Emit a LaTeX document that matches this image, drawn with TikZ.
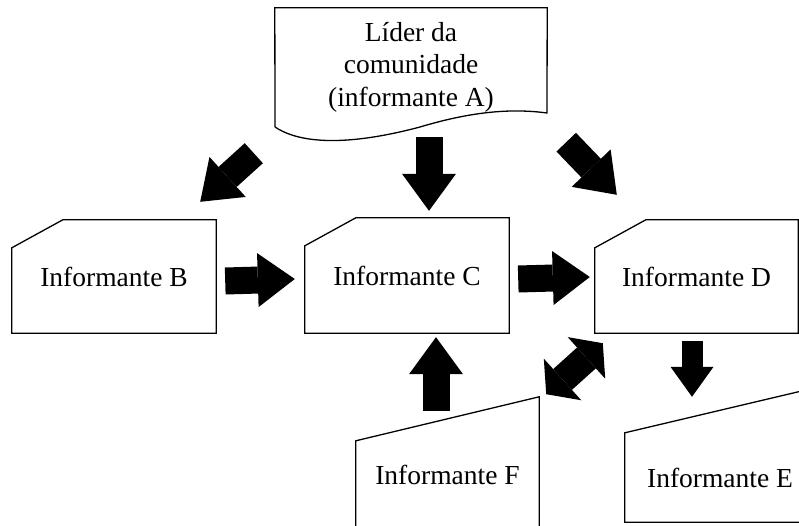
\documentclass[tikz,border=0pt]{standalone}
\usepackage{fontspec}
\setmainfont{Liberation Serif}
\usetikzlibrary{arrows.meta}

\tikzset{
  ficha/.style={minimum width=204pt,minimum height=113pt,inner sep=0pt,
    font=\fontsize{27.5}{32.5}\selectfont},
  contorno/.style={line width=1.3pt,line join=miter},
  flecha/.style={line width=27pt,-{Triangle[length=37pt,width=54pt,line width=0pt]}},
  flechita/.style={line width=21pt,-{Triangle[length=30pt,width=43pt,line width=0pt]}},
  dobleflecha/.style={line width=28pt,
    {Triangle[length=22pt,width=56pt,line width=0pt]}-{Triangle[length=22pt,width=56pt,line width=0pt]}}
}

\begin{document}
\begin{tikzpicture}[x=1pt,y=-1pt]
  \useasboundingbox (0,0) rectangle (799,526);
  % lider (documento)
  \node[ficha,minimum width=272pt,minimum height=118pt,align=center] (A) at (411,67)
    {Líder da\\comunidade\\(informante A)};
  \draw[contorno] (275,127) -- (A.north west) -- (A.north east) -- (547,113)
    .. controls (510,108) and (470,112) .. (420,127)
    .. controls (360,143) and (305,147) .. (275,127);
  % informantes B, C, D
  \node[ficha] (B) at (114,276.5) {Informante B};
  \node[ficha,minimum height=115pt] (C) at (407,275.5) {Informante C};
  \node[ficha,minimum width=203pt] (D) at (696.5,276.5) {Informante D};
  \foreach \n in {B,C,D}
    \draw[contorno] ([yshift=-28pt]\n.north west) -- ([xshift=51pt]\n.north west)
      -- (\n.north east) -- (\n.south east) -- (\n.south west) -- cycle;
  % informantes E, F (entrada manual)
  \node[ficha,minimum width=190pt,minimum height=89pt] (E) at (720,477.5) {Informante E};
  \draw[contorno] (E.north west) -- ([yshift=45pt]E.north east) -- (E.south east)
    -- (E.south west) -- cycle;
  \node[ficha,minimum width=183pt,minimum height=68pt] (F) at (447.5,475) {Informante F};
  \draw[contorno] (F.north west) -- ([yshift=44pt]F.north east)
    -- ([yshift=-40pt]F.south east) -- ([yshift=-40pt]F.south west) -- cycle;
  % setas
  \draw[flecha] ([shift={(-21,27)}]A.south west) -- ([shift={(-16,-18)}]B.north east);
  \draw[flecha] ([shift={(18,11)}]A.south) -- ([shift={(22,-7)}]C.north);
  \draw[flecha] ([shift={(19,16)}]A.south east) -- ([shift={(22,-25)}]D.north west);
  \draw[flecha] ([shift={(9,4.5)}]B.east) -- ([shift={(-10,3.5)}]C.west);
  \draw[flecha] ([shift={(9,3.5)}]C.east) -- ([shift={(-5,0.5)}]D.west);
  \draw[flechita] ([shift={(-4.5,8)}]D.south) -- ([shift={(-28,-36)}]E.north);
  \draw[flecha] ([shift={(-11.5,-30)}]F.north) -- ([shift={(29,4)}]C.south);
  \draw[dobleflecha] ([shift={(37,61)}]C.south east) -- ([shift={(8,10)}]D.south west);
\end{tikzpicture}
\end{document}
